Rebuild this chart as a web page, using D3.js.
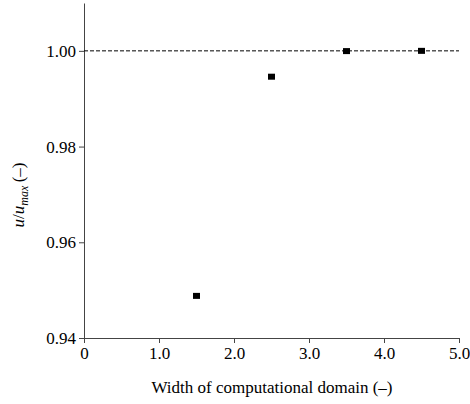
<!DOCTYPE html>
<html>
<head>
<meta charset="utf-8">
<script src="https://cdn.jsdelivr.net/npm/d3@7"></script>
<style>
  body { margin: 0; background: #fff; }
  svg text { font-family: "Liberation Serif", "Times New Roman", Times, "DejaVu Serif", serif; fill: #000; }
</style>
</head>
<body>
<div id="chart"></div>
<script>
var width = 470;
var height = 404;

var domainWidths = [1.5, 2.5, 3.5, 4.5];
var velocityRatio = [0.9488, 0.9946, 0.99995, 1.0];
var xTicks = [0, 1, 2, 3, 4, 5];
var xTickLabels = ['0', '1.0', '2.0', '3.0', '4.0', '5.0'];
var yTicks = [0.94, 0.96, 0.98, 1.00];
var refLine = 1.0;

var serif = '"Liberation Serif", "Times New Roman", Times, "DejaVu Serif", serif';

var svg = d3.select("#chart").append("svg")
  .attr("width", width)
  .attr("height", height);

var x = d3.scaleLinear()
  .domain([0, 5])
  .range([84, 459]);

var y = d3.scaleLinear()
  .domain([0.94, 1.01])
  .range([338, 3]);

// x axis
svg.append("g")
  .attr("transform", "translate(0," + y(0.94) + ")")
  .call(d3.axisBottom(x)
    .tickValues(xTicks)
    .tickFormat(function(d, i) { return xTickLabels[i]; })
    .tickSize(5)
    .tickSizeOuter(0)
    .tickPadding(4));

// y axis
svg.append("g")
  .attr("transform", "translate(" + x(0) + ",0)")
  .call(d3.axisLeft(y)
    .tickValues(yTicks)
    .tickFormat(d3.format(".2f"))
    .tickSize(5)
    .tickSizeOuter(0)
    .tickPadding(3));

svg.selectAll("g").attr("font-family", serif);
svg.selectAll(".domain, .tick line").attr("stroke", "#444").attr("stroke-width", 1);
svg.selectAll(".tick text")
  .style("font-family", serif)
  .style("font-size", "17px")
  .attr("fill", "#000");

// dashed reference line
svg.append("line")
  .attr("x1", x(0))
  .attr("x2", x(5))
  .attr("y1", y(refLine))
  .attr("y2", y(refLine))
  .attr("stroke", "#000")
  .attr("stroke-width", 1)
  .attr("stroke-dasharray", "4,2");

// points
var ms = 7;
svg.selectAll(".pt")
  .data(domainWidths)
  .enter().append("rect")
  .attr("class", "pt")
  .attr("x", function(d) { return x(d) - ms / 2; })
  .attr("y", function(d, i) { return y(velocityRatio[i]) - 3; })
  .attr("width", ms)
  .attr("height", 6)
  .attr("fill", "#000");

// x label
svg.append("text")
  .attr("x", 272)
  .attr("y", 393)
  .attr("text-anchor", "middle")
  .style("font-family", serif)
  .style("font-size", "17px")
  .text("Width of computational domain (\u2013)");

// y label
var yl = svg.append("text")
  .attr("transform", "translate(24,195) rotate(-90)")
  .attr("text-anchor", "middle")
  .style("font-family", serif)
  .style("font-size", "17px");
yl.append("tspan").style("font-style", "italic").text("u");
yl.append("tspan").text("/");
yl.append("tspan").style("font-style", "italic").text("u");
yl.append("tspan").style("font-style", "italic").style("font-size", "12px").attr("dy", 4).text("max");
yl.append("tspan").attr("dy", -4).text("\u2009(\u2013)");
</script>
</body>
</html>
